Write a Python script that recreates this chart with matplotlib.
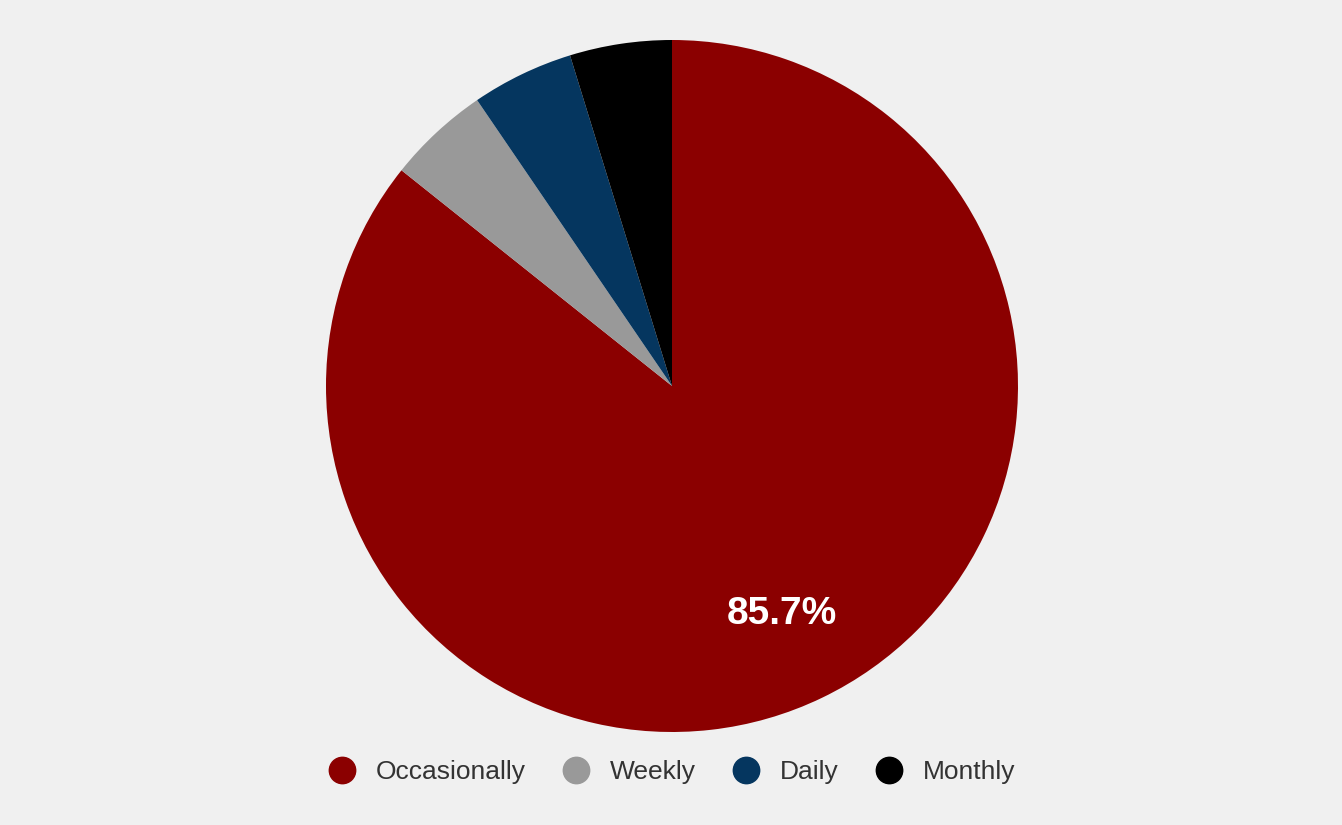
import matplotlib
matplotlib.use("Agg")
import matplotlib.pyplot as plt
from matplotlib.lines import Line2D

# Usage frequency shares
categories = ["Occasionally", "Weekly", "Daily", "Monthly"]
counts = [18, 1, 1, 1]
colors = ["#8b0000", "#999999", "#05365f", "#000000"]

W, H, DPI = 1342, 825, 100
fig = plt.figure(figsize=(W / DPI, H / DPI), dpi=DPI, facecolor="#f0f0f0")

cx, cy, r = 672, 386, 346
ax = fig.add_axes([(cx - r) / W, (H - cy - r) / H, 2 * r / W, 2 * r / H])
ax.set_facecolor("#f0f0f0")


def fmt(p):
    return f"{p:.1f}%" if p > 10 else ""


wedges, texts, autotexts = ax.pie(
    counts,
    colors=colors,
    startangle=90,
    counterclock=False,
    radius=1.0,
    autopct=fmt,
    pctdistance=0.73,
    wedgeprops=dict(linewidth=0),
    textprops=dict(color="white", fontsize=28, fontweight="bold",
                   family="Liberation Sans"),
)
ax.set_xlim(-1, 1)
ax.set_ylim(-1, 1)
ax.set_aspect("equal")
ax.axis("off")

handles = [Line2D([0], [0], marker="o", linestyle="", markersize=19,
                  markerfacecolor=c, markeredgecolor=c) for c in colors]
fig.legend(
    handles, categories,
    loc="center", bbox_to_anchor=(672 / W, 1 - 772 / H),
    ncol=4, frameon=False,
    prop=dict(family="Liberation Sans", size=19),
    labelcolor="#333333",
    handlelength=1.0, handletextpad=0.78, columnspacing=1.4,
)

fig.savefig("out.png", dpi=DPI, facecolor=fig.get_facecolor())
